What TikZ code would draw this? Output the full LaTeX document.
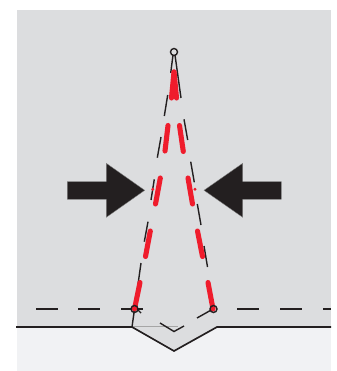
\documentclass[tikz,border=0pt]{standalone}
\usepackage{xcolor}
\definecolor{panelgray}{HTML}{DCDDDF}
\definecolor{hemgray}{HTML}{F1F2F4}
\definecolor{seamred}{HTML}{EF1C2C}
\definecolor{arrowblack}{HTML}{231F20}
\tikzset{
  fold/.style={line width=0.8pt,arrowblack},
  edgeline/.style={line width=0.95pt,arrowblack},
  stitch/.style={line width=2.9pt,seamred,line cap=round},
  pressarrow/.style={fill=arrowblack,draw=gray,line width=0.2pt}
}

\begin{document}
\begin{tikzpicture}[x=0.02cm,y=-0.02cm]
\useasboundingbox (0,0) rectangle (336,371);

% fabric
\fill[panelgray] (17,10) rectangle (331,327);
\fill[hemgray] (17,327) rectangle (331,371);
\fill[panelgray] (132,327) -- (174,351) -- (217,327) -- cycle;
\draw[gray!70,line width=0.4pt] (132,326.5) -- (178,326.5);

% raw edge
\draw[edgeline] (16,327) -- (132,327) -- (174,351) -- (217,327) -- (331,327);

% seam line
\foreach \x in {36,78,121} \draw[fold] (\x,309) -- ++(21.5,0);
\foreach \x in {237,280} \draw[fold] (\x,309) -- ++(21.5,0);
\draw[fold] (323,309) -- (331,309);
\draw[fold] (137,309) -- (141,313);

% fold under the point
\draw[fold] (160,323) -- (174,331.5) -- (184,326);
\draw[fold] (197,318) -- (213,309);

% left dart leg
\foreach \a/\b/\c/\d in {173/55/170.7/73,167.7/95/164.3/116,161/137/157.3/157.7,154.3/179.3/151/200,148/221.7/144.3/241.7,141/263/132/327}
  \draw[fold] (\a,\b) -- (\c,\d);

% right dart leg
\foreach \a/\b/\c/\d in {175/55/181/98,184/119.3/187.7/140,190.7/161.7/194.3/182.3,197.3/204/201/225,204/246/207.5/267}
  \draw[fold] (\a,\b) -- (\c,\d);

% stitching
\foreach \a/\b/\c/\d in {174/72/171.5/98,174/72/176.5/98,168/125.5/165/151,160.3/178/155.5/204,150.3/231/145.5/256.5,140/282.5/134.5/309}
  \draw[stitch] (\a,\b) -- (\c,\d);
\foreach \a/\b/\c/\d in {179.5/125.5/183.3/151.5,188/178/192.5/204,197.5/231/202.5/256.5,208/282.5/213/309}
  \draw[stitch] (\a,\b) -- (\c,\d);
\fill[seamred] (152.7,189.3) circle (1.6);
\fill[seamred] (195,189.3) circle (1.6);

% dart point and ends
\draw[fold] (174,52) circle (3.5);
\draw[fold] (134.5,309) circle (3.5);
\draw[fold] (213.5,309) circle (3.5);

% arrows
\draw[pressarrow] (67.3,181.5) -- (106.3,181.5) -- (106.3,163.3) -- (144.7,190.3) -- (106.3,217.3) -- (106.3,199.3) -- (67.3,199.3) -- cycle;
\draw[pressarrow] (281.3,181.5) -- (242.7,181.5) -- (242.7,163.3) -- (204,190.3) -- (242.7,217.3) -- (242.7,199.3) -- (281.3,199.3) -- cycle;

\end{tikzpicture}
\end{document}
